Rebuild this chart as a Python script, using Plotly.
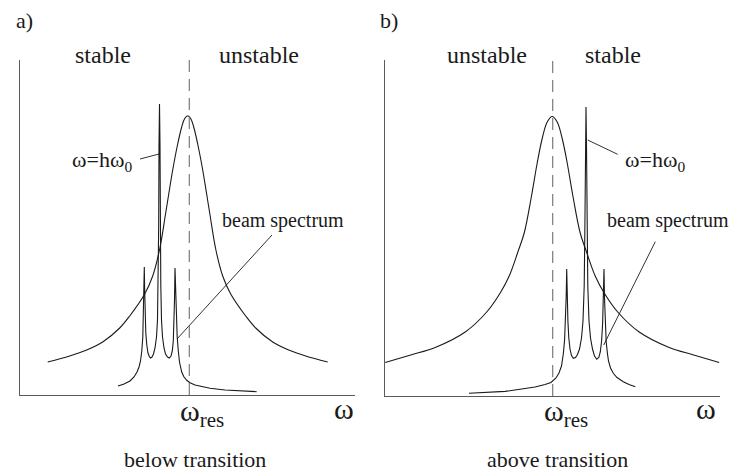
import plotly.graph_objects as go

W, H = 736, 474

# ---------------- data (arbitrary units) ----------------
# panel a) below transition : resonance impedance curve
res_a_x = [27.7, 49.7, 66.7, 82.7, 99.7, 109.7, 124.7, 132.7, 139.7, 145.7, 152.7, 157.7, 161.7, 164.7,
           167.7, 170.7, 173.7, 177.7, 182.7, 189.7, 195.7, 202.7, 210.7, 225.7, 235.7, 252.7, 268.7, 285.7, 307.7]
res_a_y = [33, 39, 45, 53, 67, 79, 101, 119, 146, 182, 225, 251, 268, 276.5,
           279.3, 276.5, 268, 251, 225, 182, 146, 119, 101, 79, 67, 53, 45, 39, 33]

# panel a) beam spectrum (three lines)
beam_a_x = [98, 104, 110, 114, 117, 119, 120.5, 121.8, 122.8, 123.5, 124.0, 124.3, 124.6, 125.1, 125.8,
            126.8, 128, 129.3, 130.5, 132, 133.5, 135, 136.5, 137.5, 138.2, 138.7, 139.0, 139.5, 140.0,
            140.3, 140.8, 141.5, 142.5, 144, 145.5, 147.5, 149.3, 151, 152.3, 153.3, 154, 154.5, 155,
            155.6, 156.3, 157.2, 158.3, 159.5, 161.7, 164, 167, 170, 175, 182, 190, 205, 220, 236.7]
beam_a_y = [9, 11, 14, 18, 23, 28, 34, 44, 58, 80, 108, 128, 108, 80, 62,
            50, 42, 38.5, 37, 38, 41, 47, 58, 75, 110, 170, 250, 291, 250,
            170, 110, 75, 58, 47, 41, 38, 37, 39, 44, 54, 70, 95, 127,
            100, 75, 58, 44, 33, 23, 18, 14.5, 12.3, 10, 8.2, 6.7, 5, 4, 3.3]

# panel b) above transition : resonance impedance curve
res_b_x = [0.2, 25.7, 50.2, 80.2, 101.7, 115.2, 124.2, 133.2, 139.2, 146.5, 152.2, 157.2, 162.2,
           167.2, 172.2, 177.2, 182.2, 187.9, 195.2, 201.2, 210.2, 219.2, 232.7, 254.2, 284.2, 308.7, 334.2]
res_b_y = [33.5, 41, 48.5, 64, 84, 103, 120, 145, 163, 200, 233, 257.5, 274,
           279.5, 274, 257.5, 233, 200, 163, 145, 120, 103, 84, 64, 48.5, 41, 33.5]

# panel b) beam spectrum
beam_b_x = [84, 100, 120, 135, 150, 160, 166, 171, 174, 176.5, 178.3, 179.6, 180.5, 181.2, 181.7,
            182.2, 182.9, 183.8, 185, 186.5, 188.3, 190.5, 192.5, 194.5, 196.5, 198, 199.2, 199.9,
            200.5, 201, 201.5, 202.1, 202.8, 204, 205.5, 207.5, 209.5, 211.7, 213.8, 215.3, 216.6,
            217.6, 218.4, 219, 219.5, 220.2, 221.2, 222.5, 223.5, 225.5, 228.3, 232, 238.3, 244, 250.3]
beam_b_y = [2.7, 3.3, 4.6, 6.7, 9, 11.5, 13.5, 18, 23, 30, 42, 56, 75, 100, 127,
            100, 75, 58, 47, 40.5, 37.7, 38.5, 41.5, 47, 58, 75, 110, 170,
            250, 289, 250, 170, 110, 75, 58, 47, 40, 36.7, 38.5, 44, 55,
            72, 98, 127, 98, 72, 54, 42, 35, 28, 22.7, 18.5, 14.3, 11.5, 9.3]

# resonance frequency position (dashed line) per panel
omega_res = [169.3, 167.7]

# leader lines (label -> curve)
lead_h_a_x, lead_h_a_y = [120, 139], [236, 241]
lead_beam_a_x, lead_beam_a_y = [252, 157], [160, 56]
lead_h_b_x, lead_h_b_y = [202.7, 232.7], [256, 241.7]
lead_beam_b_x, lead_beam_b_y = [270.3, 218.7], [154.3, 51]

# text labels
panel_tags = ["a)", "b)"]
left_region = ["stable", "unstable"]
right_region = ["unstable", "stable"]
harm_label = "ω=hω<sub>0</sub>"
beam_label = "beam spectrum"
res_label = "ω<sub>res</sub>"
axis_label = "ω"
captions = ["below transition", "above transition"]

# ---------------- figure ----------------
FONT = "Liberation Serif, Times New Roman, serif"
INK = "#1a1a1a"


def px(x):
    return x / W


def py(y):
    return 1 - y / H


fig = go.Figure()

line_style = dict(color=INK, width=1.1)
lead_style = dict(color=INK, width=0.9)

fig.add_trace(go.Scatter(x=res_a_x, y=res_a_y, mode="lines", line=dict(**line_style, shape="spline", smoothing=1.0),
                         xaxis="x", yaxis="y"))
fig.add_trace(go.Scatter(x=beam_a_x, y=beam_a_y, mode="lines", line=line_style, xaxis="x", yaxis="y"))
fig.add_trace(go.Scatter(x=lead_h_a_x, y=lead_h_a_y, mode="lines", line=lead_style, xaxis="x", yaxis="y"))
fig.add_trace(go.Scatter(x=lead_beam_a_x, y=lead_beam_a_y, mode="lines", line=lead_style, xaxis="x", yaxis="y"))

fig.add_trace(go.Scatter(x=res_b_x, y=res_b_y, mode="lines", line=dict(**line_style, shape="spline", smoothing=1.0),
                         xaxis="x2", yaxis="y2"))
fig.add_trace(go.Scatter(x=beam_b_x, y=beam_b_y, mode="lines", line=line_style, xaxis="x2", yaxis="y2"))
fig.add_trace(go.Scatter(x=lead_h_b_x, y=lead_h_b_y, mode="lines", line=lead_style, xaxis="x2", yaxis="y2"))
fig.add_trace(go.Scatter(x=lead_beam_b_x, y=lead_beam_b_y, mode="lines", line=lead_style, xaxis="x2", yaxis="y2"))

ax_common = dict(showgrid=False, zeroline=False, showticklabels=False, ticks="",
                 showline=True, linecolor="#5a5a5a", linewidth=1, fixedrange=True)

fig.update_layout(
    width=W, height=H,
    margin=dict(l=0, r=0, t=0, b=0),
    paper_bgcolor="white", plot_bgcolor="white",
    showlegend=False,
    hovermode=False,
    font=dict(family=FONT, color=INK),
    xaxis=dict(domain=[px(20), px(355)], range=[0, 335], anchor="y", **ax_common),
    yaxis=dict(domain=[py(395), py(60)], range=[0, 335], anchor="x", **ax_common),
    xaxis2=dict(domain=[px(385), px(720)], range=[0, 335], anchor="y2", **ax_common),
    yaxis2=dict(domain=[py(396), py(60)], range=[0, 336], anchor="x2", **ax_common),
)

# dashed resonance lines (extend slightly above axes)
for i, (xr, ybot) in enumerate([("x", 395), ("x2", 396)]):
    fig.add_shape(type="line", xref=xr, yref="paper", x0=omega_res[i], x1=omega_res[i],
                  y0=py(ybot), y1=py(54), line=dict(color="#7a7a7a", width=1.2, dash="12px,7px"))

ann = []


def text(t, x, y, size, xanchor="center", yanchor="middle", xref="paper", xshift=0):
    ann.append(dict(text=t, x=x, y=y, xref=xref, yref="paper", showarrow=False,
                    xanchor=xanchor, yanchor=yanchor, xshift=xshift,
                    font=dict(family=FONT, size=size, color=INK)))


# panel tags
text(panel_tags[0], px(14), py(20), 22, xanchor="left")
text(panel_tags[1], px(378), py(20), 22, xanchor="left")
# region labels
text(left_region[0], px(103), py(55), 24)
text(right_region[0], px(259), py(55), 24)
text(left_region[1], px(487), py(55), 24)
text(right_region[1], px(613), py(55), 24)
# harmonic labels
text(harm_label, px(134), py(161), 22, xanchor="right")
text(harm_label, px(623), py(161), 22, xanchor="left")
# beam spectrum labels
text(beam_label, px(220), py(221), 20, xanchor="left")
text(beam_label, px(605), py(221), 20, xanchor="left")
# omega_res labels on axis
text(res_label, omega_res[0], py(413), 30, xanchor="left", xref="x", xshift=-11)
text(res_label, omega_res[1], py(413), 30, xanchor="left", xref="x2", xshift=-11)
# axis omega labels
text(axis_label, px(344), py(408), 30)
text(axis_label, px(706), py(408), 30)
# captions
text(captions[0], px(195), py(459), 22)
text(captions[1], px(557), py(459), 22)

fig.update_layout(annotations=ann)

fig.write_html("out.html", config={"displayModeBar": False, "staticPlot": True},
               post_script="document.body.style.margin='0';document.body.style.overflow='hidden';")
